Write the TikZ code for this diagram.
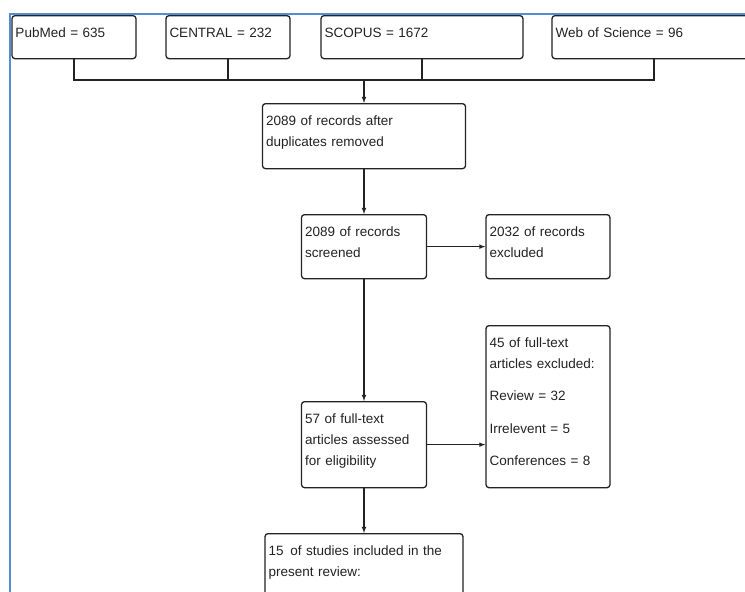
\documentclass[tikz,border=0pt]{standalone}
\usepackage{fontspec}
\setmainfont{Liberation Sans}
\definecolor{framecol}{RGB}{84,141,212}
\definecolor{linecol}{RGB}{35,35,35}
\begin{document}
\begin{tikzpicture}[
                    x=1pt, y=-1pt,
                    >=latex,
                    stepbox/.style={rectangle, draw=linecol, line width=1.3pt, rounded corners=3pt,
                                    anchor=north, align=left, inner xsep=3.5pt, inner ysep=4pt,
                                    text height=18pt, text=linecol, font=\fontsize{13.5}{21}\selectfont},
                    conn/.style={draw=linecol, line width=1.1pt}
                ]
                \clip (0,0) rectangle (745,592);
                \fill[white] (0,0) rectangle (745,592);
                % Sources
                \node [stepbox, text width=117pt, text depth=17pt] (pubmed) at (74,15) {PubMed = 635};
                \node [stepbox, text width=117pt, text depth=17pt] (central) at (228,15) {CENTRAL = 232};
                \node [stepbox, text width=195pt, text depth=17pt] (scopus) at (422,15) {SCOPUS = 1672};
                \node [stepbox, text width=197pt, text depth=17pt] (wos) at (654,15) {Web of Science = 96};
                % Steps
                \node [stepbox, text width=196pt, text depth=39pt] (dedup) at (364,103) {2089 of records after\\duplicates removed};
                \node [stepbox, text width=118pt, text depth=38pt] (screen) at (364,214) {2089 of records\\screened};
                \node [stepbox, text width=117pt, text depth=38pt] (excl) at (548,214) {2032 of records\\excluded};
                \node [stepbox, text width=118pt, text depth=60pt] (full) at (364,401) {57 of full-text\\articles assessed\\for eligibility};
                \node [stepbox, text width=117pt, text depth=136pt] (fullex) at (548,325) {45 of full-text\\articles excluded:\\[11pt]Review = 32\\[12pt]Irrelevent = 5\\[11pt]Conferences = 8};
                \node [stepbox, text width=191pt, text depth=54pt] (incl) at (364,533) {15\, of studies included in the\\present review:};

                % Connections
                \path (dedup.north) ++(0,-23) coordinate (bus);
                \draw [conn] (pubmed.south) |- (bus) -| (wos.south);
                \draw [conn] (central.south) -- (central.south |- bus);
                \draw [conn] (scopus.south) -- (scopus.south |- bus);
                \draw [conn,->] (bus) -- (dedup.north);
                \draw [conn,->] (dedup.south) -- (screen.north);
                \draw [conn,->] (screen) -- (excl);
                \draw [conn,->] (screen.south) -- (full.north);
                \draw [conn,->] (full.east) -- (full.east -| fullex.west);
                \draw [conn,->] (full.south) -- (incl.north);

                % Frame
                \draw [framecol, line width=1.5pt] (10,592) |- (745,14);
            \end{tikzpicture}
\end{document}
